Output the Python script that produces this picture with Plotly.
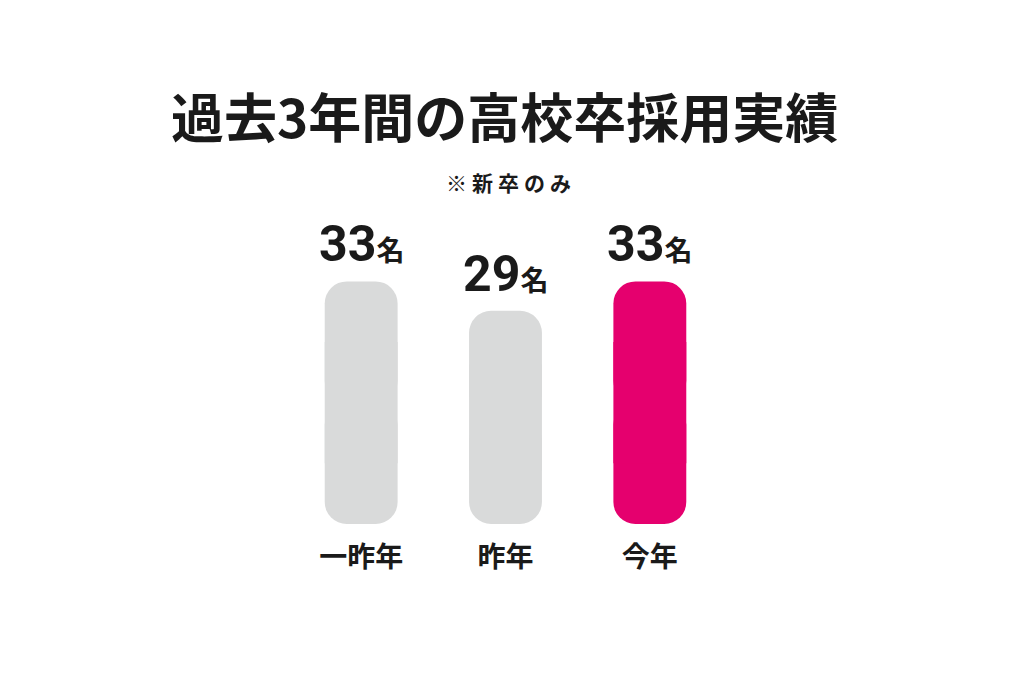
import plotly.graph_objects as go

categories = ["一昨年", "昨年", "今年"]
values = [33, 29, 33]
unit = "名"
colors = ["#D9DADA", "#D9DADA", "#E5006E"]
title = "過去3年間の高校卒採用実績"
subtitle = "※新卒のみ"

x = list(range(len(categories)))
half = [v / 2 for v in values]
quarter = [v / 4 for v in values]

W, H = 1014, 700
ML, MR, MT, MB = 281, 300, 222, 184

fig = go.Figure()
bar_w = 0.505
# upper half (rounded top)
fig.add_trace(go.Bar(x=x, y=half, base=half, width=bar_w,
                     marker=dict(color=colors, line=dict(width=0), cornerradius=22),
                     hoverinfo="skip", showlegend=False))
# lower half (rounded bottom)
fig.add_trace(go.Bar(x=x, y=[-h for h in half], base=half, width=bar_w,
                     marker=dict(color=colors, line=dict(width=0), cornerradius=22),
                     hoverinfo="skip", showlegend=False))
# middle filler (square) to hide the seam
fig.add_trace(go.Bar(x=x, y=half, base=quarter, width=bar_w,
                     marker=dict(color=colors, line=dict(width=0), cornerradius=0),
                     hoverinfo="skip", showlegend=False))

ph = H - MT - MB

def py(pix):
    # screen pixel (page has an 8px body margin) -> paper fraction
    return (H - MB + 8 - pix) / ph

annotations = []
for xi, v in zip(x, values):
    annotations.append(dict(
        x=xi, y=v, xref="x", yref="y", yanchor="bottom", yshift=6,
        showarrow=False,
        text=f"<b>{v}<span style='font-size:28px'>{unit}</span></b>",
        font=dict(family="Roboto, Noto Sans CJK JP", size=50, color="#1a1a1a"),
    ))
annotations.append(dict(x=0.497, y=py(115), xref="paper", yref="paper", yanchor="middle",
                        text=f"<b>{title}</b>", showarrow=False,
                        font=dict(family="Noto Sans CJK JP", size=53, color="#1a1a1a")))
annotations.append(dict(x=0.513, y=py(182), xref="paper", yref="paper", yanchor="middle",
                        text=f"<b><span style='letter-spacing:5px'>{subtitle}</span></b>", showarrow=False,
                        font=dict(family="Noto Sans CJK JP", size=21, color="#1a1a1a")))

fig.update_layout(
    width=W, height=H,
    paper_bgcolor="white", plot_bgcolor="white",
    margin=dict(l=ML, r=MR, t=MT, b=MB),
    barmode="overlay",
    annotations=annotations,
    xaxis=dict(range=[-0.5, 2.5], tickmode="array", tickvals=x,
               ticktext=[f"<b>{c}</b>" for c in categories],
               showgrid=False, zeroline=False, showline=False, ticks="",
               tickfont=dict(family="Noto Sans CJK JP", size=28, color="#1a1a1a"),
               ticklabelstandoff=14, fixedrange=True),
    yaxis=dict(range=[0, 40], visible=False, fixedrange=True),
)

fig.write_html("out.html", config={"displayModeBar": False})
